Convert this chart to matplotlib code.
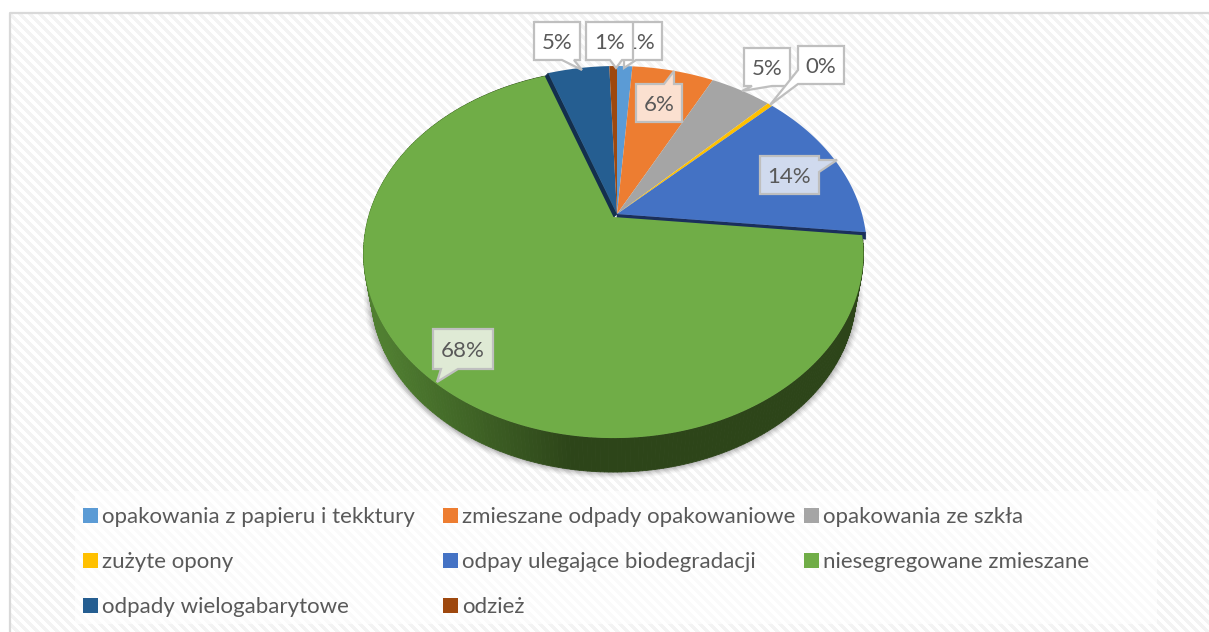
import numpy as np
import matplotlib
matplotlib.use('Agg')
import matplotlib.pyplot as plt
from matplotlib.collections import PolyCollection
from matplotlib.patches import Polygon, Rectangle

plt.rcParams['font.family'] = ['Lato', 'DejaVu Sans']

names = ['opakowania z papieru i tekktury', 'zmieszane odpady opakowaniowe', 'opakowania ze szkła',
         'zużyte opony', 'odpay ulegające biodegradacji', 'niesegregowane zmieszane',
         'odpady wielogabarytowe', 'odzież']
shares = [1.2, 6.4, 4.8, 0.4, 13.8, 68.0, 4.8, 0.6]
colors = ['#5b9bd5', '#ed7d31', '#a5a5a5', '#ffc000', '#4472c4', '#70ad47', '#255e91', '#9e480e']
# callout box (x0, y0, x1, y1), tail tip, tail base along the box edge, fill
callouts = [((617, 22, 662, 60), (624, 68), (624, 636), 'bottom', '#ffffff'),
            ((636, 84, 682, 122), (674, 71), (664, 674), 'top', '#fbe0d0'),
            ((744, 48, 790, 86), (742, 91), (752, 772), 'bottom', '#ffffff'),
            ((798, 46, 844, 84), (770, 105), (70, 84), 'left', '#ffffff'),
            ((760, 156, 819, 194), (837, 160), (160, 172), 'right', '#d0daee'),
            ((433, 329, 493, 369), (437, 382), (441, 458), 'bottom', '#dfead5'),
            ((534, 22, 580, 60), (582, 70), (562, 574), 'bottom', '#ffffff'),
            ((586, 22, 633, 60), (616, 68), (610, 622), 'bottom', '#ffffff')]

CX, CY = 617.0, 214.0
A, B, P = 245.0, 177.3, 0.198
GREEN_SHIFT = (-3.5, 3.0)
DEPTH = 40.6
BASE_SCALE = 0.97


def rim(theta, shift=(0, 0), scale=1.0):
    # theta clockwise from 12 o'clock, perspective view of a flat disc
    u, v = np.sin(theta), np.cos(theta)
    w = 1 + P * v
    return CX + shift[0] + scale * A * u / w, CY + shift[1] - scale * B * v / w


fig = plt.figure(figsize=(12.09, 6.32), dpi=100)
ax = fig.add_axes([0, 0, 1, 1])

# striped chart background
yy, xx = np.mgrid[0:620, 0:1198]
stripes = np.where((xx - yy) % 10 < 5, 1.0, 0.955)
ax.imshow(stripes, extent=(11, 1209, 632, 12), cmap='gray', vmin=0, vmax=1,
          aspect='auto', interpolation='bilinear', zorder=0)
ax.set_xlim(0, 1209)
ax.set_ylim(632, 0)
ax.axis('off')
ax.plot([10, 10, 1209], [632, 12.5, 12.5], color='#d9d9d9', lw=1.6, zorder=1)

edges = np.cumsum([0] + shares) / sum(shares) * 2 * np.pi
green = names.index('niesegregowane zmieszane')
g0, g1 = edges[green], edges[green + 1]
ts = np.linspace(0, 2 * np.pi, 361)

# soft shadow under the disc
for grow, alpha in zip([1.030, 1.024, 1.018, 1.012, 1.006], [0.03, 0.04, 0.06, 0.07, 0.08]):
    sx, sy = rim(ts, (GREEN_SHIFT[0], GREEN_SHIFT[1] + DEPTH), BASE_SCALE * grow)
    mask = (ts > np.pi * 0.45) & (ts < np.pi * 1.6)
    ax.add_patch(Polygon(np.c_[sx[mask], sy[mask]], fc='black', ec='none', alpha=alpha, zorder=2))

# green outer wall, shaded along x
wt = np.linspace(g0, g1, 300)
tx, ty = rim(wt, GREEN_SHIFT)
bx, by = rim(wt, (GREEN_SHIFT[0], GREEN_SHIFT[1] + DEPTH), BASE_SCALE)
quads = [[(tx[i], ty[i]), (tx[i + 1], ty[i + 1]), (bx[i + 1], by[i + 1]), (bx[i], by[i])] for i in range(299)]
mid = (tx[:-1] + tx[1:]) / 2
mix = np.interp(mid, [380, 570], [0, 1])
c0, c1 = np.array(matplotlib.colors.to_rgb('#507f31')), np.array(matplotlib.colors.to_rgb('#2d4519'))
wall_cols = [tuple(c0 + (c1 - c0) * m) for m in mix]
ax.add_collection(PolyCollection(quads, facecolors=wall_cols, edgecolors=wall_cols, lw=0.6, zorder=3))

# cut faces of the neighbours show in the gap left by the green slice
for side, col, dx, dy in [(edges[green], '#1a2f5c', 0, 7), (edges[green + 1], '#132f4d', -6, 6)]:
    ex, ey = rim(np.array([side]))
    ax.add_patch(Polygon([(CX, CY), (ex[0], ey[0]), (ex[0] + dx, ey[0] + dy), (CX + dx, CY + dy)],
                         fc=col, ec=col, lw=0.5, zorder=4))

# top faces
for i, col in enumerate(colors):
    shift = GREEN_SHIFT if i == green else (0, 0)
    z = 6 if i == green else 5
    at = np.linspace(edges[i], edges[i + 1], max(4, int((edges[i + 1] - edges[i]) * 100)))
    px, py = rim(at, shift)
    pts = np.r_[[[CX + shift[0], CY + shift[1]]], np.c_[px, py]]
    ax.add_patch(Polygon(pts, fc=col, ec='none', zorder=z))

# data labels, drawn in series order so later callouts cover earlier ones
for n, (share, (box, tip, base, side, fill)) in enumerate(zip(shares, callouts)):
    x0, y0, x1, y1 = box
    if side == 'bottom':
        pts = [(x0, y0), (x1, y0), (x1, y1), (base[1], y1), tip, (base[0], y1), (x0, y1)]
    elif side == 'top':
        pts = [(x0, y0), (base[0], y0), tip, (base[1], y0), (x1, y0), (x1, y1), (x0, y1)]
    elif side == 'left':
        pts = [(x0, y0), (x1, y0), (x1, y1), (x0, y1), tip, (x0, base[0])]
    else:
        pts = [(x0, y0), (x1, y0), (x1, base[0]), tip, (x1, base[1]), (x1, y1), (x0, y1)]
    zz = 10 + n
    ax.add_patch(Polygon(pts, fc=fill, ec='#bfbfbf', lw=1.6, joinstyle='miter', zorder=zz))
    ax.text((x0 + x1) / 2, (y0 + y1) / 2, f'{share:.0f}%', ha='center', va='center_baseline',
            fontsize=16, color='#595959', zorder=zz)

# legend panel and entries, laid out in rows like the original
ax.add_patch(Rectangle((75, 491), 1082, 133, fc='white', ec='none', alpha=0.65, zorder=1))
col_x = [83, 443, 804]
row_y = [515, 560, 605]
for i, (name, col) in enumerate(zip(names, colors)):
    x = col_x[i % 3]
    y = row_y[i // 3]
    ax.add_patch(Rectangle((x, y - 7.5), 15, 15, fc=col, ec='none', zorder=3))
    ax.text(x + 19, y, name, ha='left', va='center_baseline', fontsize=16, color='#595959', zorder=3)

fig.savefig('out.png', dpi=100)
